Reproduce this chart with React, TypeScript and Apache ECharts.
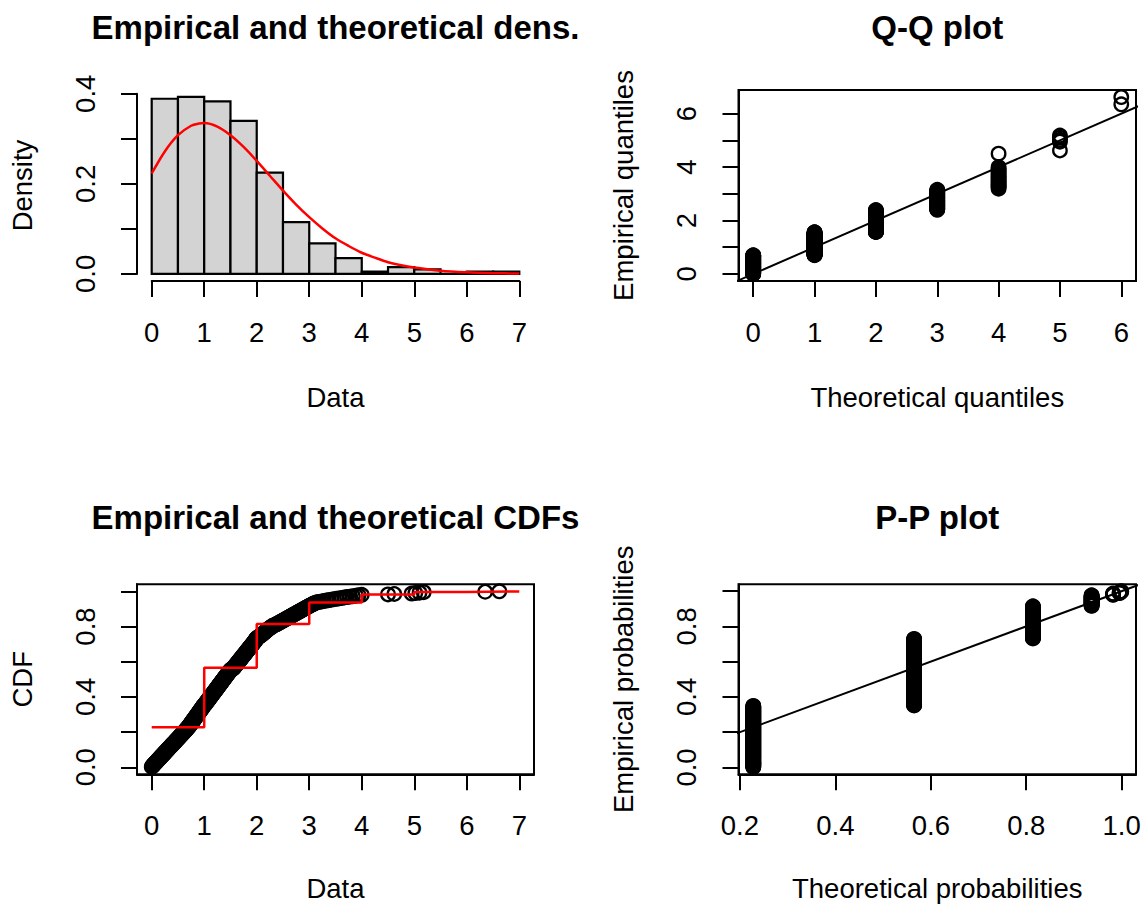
import React, { useEffect, useRef } from "react";
import * as echarts from "echarts";

// ---------- data ----------
const HIST_BREAKS = [0, 0.5, 1, 1.5, 2, 2.5, 3, 3.5, 4, 4.5, 5, 5.5, 6, 6.5, 7];
const HIST_DENSITY = [0.389, 0.393, 0.383, 0.34, 0.225, 0.115, 0.068, 0.035, 0.005, 0.015, 0.01, 0.0, 0.005, 0.005];

const DENS_X = [0, 0.25, 0.5, 0.75, 0.9, 1, 1.25, 1.5, 1.75, 2, 2.25, 2.5, 2.75, 3, 3.25, 3.5, 3.75, 4, 4.25, 4.5, 4.75, 5, 5.5, 6, 6.5, 7];
const DENS_Y = [0.223, 0.272, 0.308, 0.329, 0.334, 0.335, 0.327, 0.308, 0.282, 0.251, 0.218, 0.185, 0.154, 0.126, 0.101, 0.079, 0.062, 0.047, 0.036, 0.026, 0.019, 0.014, 0.007, 0.0035, 0.0017, 0.0008];

const POIS_CDF = [0.228, 0.565, 0.814, 0.937, 0.982, 0.9958, 0.9991, 0.9998];

// sorted sample (400 values), estimated from the Q-Q, CDF and P-P plots
const SAMPLE = [
  0.00, 0.01, 0.02, 0.02, 0.03, 0.04, 0.05, 0.05, 0.06, 0.07,
  0.08, 0.09, 0.09, 0.10, 0.11, 0.12, 0.12, 0.13, 0.14, 0.15,
  0.16, 0.16, 0.17, 0.18, 0.19, 0.19, 0.20, 0.21, 0.22, 0.23,
  0.23, 0.24, 0.25, 0.26, 0.26, 0.27, 0.28, 0.29, 0.30, 0.30,
  0.31, 0.32, 0.33, 0.33, 0.34, 0.35, 0.36, 0.37, 0.37, 0.38,
  0.39, 0.40, 0.40, 0.41, 0.42, 0.43, 0.44, 0.44, 0.45, 0.46,
  0.47, 0.47, 0.48, 0.49, 0.50, 0.51, 0.51, 0.52, 0.53, 0.54,
  0.54, 0.55, 0.56, 0.57, 0.58, 0.58, 0.59, 0.60, 0.61, 0.61,
  0.62, 0.63, 0.64, 0.65, 0.65, 0.66, 0.67, 0.67, 0.68,
  0.69, 0.70, 0.70, 0.71, 0.72, 0.72, 0.73, 0.73, 0.74, 0.75,
  0.75, 0.76, 0.76, 0.77, 0.78, 0.78, 0.79, 0.79, 0.80, 0.81,
  0.81, 0.82, 0.82, 0.83, 0.84, 0.84, 0.85, 0.85, 0.86, 0.87,
  0.87, 0.88, 0.88, 0.89, 0.90, 0.90, 0.91, 0.91, 0.92, 0.93,
  0.93, 0.94, 0.94, 0.95, 0.96, 0.96, 0.97, 0.97, 0.98, 0.98,
  0.99,
  1.00, 1.01, 1.01, 1.02, 1.03, 1.03, 1.04, 1.04, 1.05, 1.06,
  1.06, 1.07, 1.08, 1.08, 1.09, 1.09, 1.10, 1.11, 1.11, 1.12,
  1.13, 1.13, 1.14, 1.14, 1.15, 1.16, 1.16, 1.17, 1.18, 1.18,
  1.19, 1.19, 1.20, 1.21, 1.21, 1.22, 1.23, 1.23, 1.24, 1.24,
  1.25, 1.26, 1.26, 1.27, 1.28, 1.28, 1.29, 1.29, 1.30, 1.31,
  1.31, 1.32, 1.33, 1.33, 1.34, 1.34, 1.35, 1.36, 1.36, 1.37,
  1.38, 1.38, 1.39, 1.39, 1.40, 1.41, 1.41, 1.42, 1.43, 1.43,
  1.44, 1.44, 1.45, 1.46, 1.46, 1.47, 1.48, 1.48, 1.49, 1.50,
  1.50, 1.51, 1.52,
  1.55, 1.55, 1.56, 1.57, 1.57, 1.58, 1.59, 1.59, 1.60, 1.61,
  1.61, 1.62, 1.63, 1.63, 1.64, 1.65, 1.65, 1.66, 1.67, 1.67,
  1.68, 1.69, 1.69, 1.70, 1.71, 1.71, 1.72, 1.73, 1.73, 1.74,
  1.75, 1.75, 1.76, 1.77, 1.77, 1.78, 1.79, 1.79, 1.80, 1.81,
  1.81, 1.82, 1.83, 1.83, 1.84, 1.85, 1.85, 1.86, 1.87, 1.87,
  1.88, 1.89, 1.89, 1.90, 1.91, 1.91, 1.92, 1.93, 1.93, 1.94,
  1.95, 1.95, 1.96, 1.97, 1.97, 1.98, 1.98, 1.99, 1.99,
  2.00, 2.01, 2.02, 2.03, 2.04, 2.06, 2.07, 2.08, 2.09, 2.10,
  2.11, 2.12, 2.13, 2.14, 2.15, 2.16, 2.17, 2.18, 2.19, 2.20,
  2.21, 2.22, 2.23, 2.24, 2.25, 2.27, 2.28, 2.29, 2.30, 2.31,
  2.33,
  2.36, 2.37, 2.39, 2.40, 2.42, 2.43, 2.45, 2.46, 2.48, 2.49,
  2.51, 2.52, 2.54, 2.55, 2.57, 2.58, 2.60, 2.61, 2.63, 2.64,
  2.66, 2.67, 2.69, 2.70, 2.72, 2.73, 2.75, 2.76, 2.78, 2.79,
  2.81, 2.82, 2.84, 2.85, 2.87, 2.88, 2.90, 2.91, 2.93, 2.94,
  2.96, 2.97, 2.99,
  3.00, 3.02, 3.04, 3.05, 3.07, 3.09, 3.10, 3.12,
  3.15, 3.19, 3.24, 3.28, 3.33, 3.37, 3.42, 3.47, 3.52, 3.57,
  3.62, 3.67, 3.72, 3.78, 3.83, 3.89, 3.94, 4.00,
  4.50, 4.62, 4.95, 5.02, 5.10, 5.18, 6.35, 6.62,
];

// tick positions / labels
const HIST_X_TICKS = [0, 1, 2, 3, 4, 5, 6, 7];
const HIST_Y_TICKS = [0, 0.1, 0.2, 0.3, 0.4];
const HIST_Y_LABELS = [0, 0.2, 0.4];
const QQ_X_TICKS = [0, 1, 2, 3, 4, 5, 6];
const QQ_Y_TICKS = [0, 1, 2, 3, 4, 5, 6];
const QQ_Y_LABELS = [0, 2, 4, 6];
const CDF_X_TICKS = [0, 1, 2, 3, 4, 5, 6, 7];
const PROB_TICKS = [0, 0.2, 0.4, 0.6, 0.8, 1.0];
const PROB_LABELS = [0, 0.4, 0.8];
const PP_X_TICKS = [0.2, 0.4, 0.6, 0.8, 1.0];

// ---------- derived tables ----------
const N = SAMPLE.length;
const ppoint = (i: number) => (i + 0.5) / N;
const qpois = (p: number) => {
  for (let k = 0; k < POIS_CDF.length; k++) if (POIS_CDF[k] >= p) return k;
  return POIS_CDF.length;
};
const QQ_DATA = SAMPLE.map((v, i) => [qpois(ppoint(i)), v]);
const CDF_DATA = SAMPLE.map((v, i) => [v, (i + 1) / N]);
const PP_DATA = SAMPLE.map((v, i) => [POIS_CDF[Math.min(Math.floor(v), POIS_CDF.length - 1)], ppoint(i)]);
const STEP_DATA = POIS_CDF.map((c, k) => [k, c]);
const HIST_DATA = HIST_DENSITY.map((d, i) => [HIST_BREAKS[i], HIST_BREAKS[i + 1], d]);
const DENS_DATA = DENS_X.map((x, i) => [x, DENS_Y[i]]);
const IDENTITY = [[-1, -1], [8, 8]];

const FONT = "'Liberation Sans', Arial, Helvetica, sans-serif";
const FS = 27.5;
const TFS = 33;

function xAx(gridIndex: number, min: number, max: number, ticks: number[], labels: number[], fmt: (v: number) => string, offset = 0) {
  return {
    type: "value", gridIndex, min, max, position: "bottom", offset,
    axisLine: { show: true, onZero: false, lineStyle: { color: "#000", width: 2 } },
    axisTick: { show: true, inside: false, length: 16, customValues: ticks, lineStyle: { color: "#000", width: 2 } },
    axisLabel: { show: true, customValues: labels, formatter: fmt, color: "#000", fontSize: FS, fontFamily: FONT, margin: 37 },
    splitLine: { show: false },
  };
}
function yAx(gridIndex: number, min: number, max: number, ticks: number[], labels: number[], fmt: (v: number) => string, offset = 0) {
  return {
    type: "value", gridIndex, min, max, position: "left", offset,
    axisLine: { show: true, onZero: false, lineStyle: { color: "#000", width: 2 } },
    axisTick: { show: true, inside: false, length: 16, customValues: ticks, lineStyle: { color: "#000", width: 2 } },
    axisLabel: { show: true, customValues: labels, formatter: fmt, rotate: 90, color: "#000", fontSize: FS, fontFamily: FONT, margin: 38 },
    splitLine: { show: false },
  };
}
const f0 = (v: number) => String(Math.round(v));
const f1 = (v: number) => v.toFixed(1);

function txt(text: string, x: number, y: number, bold: boolean, rotate = false) {
  return {
    type: "text", x, y, rotation: rotate ? Math.PI / 2 : 0, silent: true,
    style: {
      text, x: 0, y: 0, fill: "#000",
      font: `${bold ? "bold " : ""}${bold ? TFS : FS}px ${FONT}`,
      align: "center", verticalAlign: "middle", textAlign: "center", textVerticalAlign: "middle",
    },
  };
}

// plot-region boxes (pixels)
const L1 = 137, R1 = 534, L2 = 738.5, R2 = 1136;
const T1 = 90, B1 = 281, T2 = 584.3, B2 = 774.3;

const circleStyle = { color: "rgba(0,0,0,0)", borderColor: "#000", borderWidth: 2.3, opacity: 1 };

export default function App() {
  const ref = useRef<HTMLDivElement>(null);
  useEffect(() => {
    if (!ref.current) return;
    const chart = echarts.init(ref.current, undefined, { renderer: "svg" });
    const boxGrid = (left: number, top: number, right: number, bottom: number) => ({
      left, top, width: right - left, height: bottom - top, show: true,
      borderColor: "#000", borderWidth: 2, backgroundColor: "transparent", containLabel: false, outerBoundsMode: "none",
    });
    const option: any = {
      animation: false,
      backgroundColor: "#fff",
      grid: [
        // histogram axes span exactly 0..7 and 0..0.4
        { left: 151.7, top: 93.8, width: 367.6, height: 180.1, show: false, containLabel: false, outerBoundsMode: "none" },
        boxGrid(L2, T1, R2, B1),
        boxGrid(L1, T2, R1, B2),
        boxGrid(L2, T2, R2, B2),
      ],
      xAxis: [
        xAx(0, 0, 7, HIST_X_TICKS, HIST_X_TICKS, f0, 7.1),
        xAx(1, -0.24, 6.24, QQ_X_TICKS, QQ_X_TICKS, f0),
        xAx(2, -0.28, 7.28, CDF_X_TICKS, CDF_X_TICKS, f0),
        xAx(3, 0.197, 1.03, PP_X_TICKS, PP_X_TICKS, f1),
      ],
      yAxis: [
        yAx(0, 0, 0.4, HIST_Y_TICKS, HIST_Y_LABELS, f1, 14.7),
        yAx(1, -0.2648, 6.8848, QQ_Y_TICKS, QQ_Y_LABELS, f0),
        yAx(2, -0.04, 1.04, PROB_TICKS, PROB_LABELS, f1),
        yAx(3, -0.0387, 1.0386, PROB_TICKS, PROB_LABELS, f1),
      ],
      series: [
        {
          type: "custom", xAxisIndex: 0, yAxisIndex: 0, data: HIST_DATA, silent: true,
          encode: { x: [0, 1], y: 2 },
          renderItem: (params: any, api: any) => {
            const p1 = api.coord([api.value(0), api.value(2)]);
            const p2 = api.coord([api.value(1), 0]);
            return {
              type: "rect",
              shape: { x: p1[0], y: p1[1], width: p2[0] - p1[0], height: p2[1] - p1[1] },
              style: { fill: "#D3D3D3", stroke: "#000", lineWidth: 2.2 },
            };
          },
        },
        {
          type: "line", xAxisIndex: 0, yAxisIndex: 0, data: DENS_DATA, smooth: 0.3, showSymbol: false, silent: true,
          lineStyle: { color: "#FF0000", width: 2.5 }, z: 5,
        },
        {
          type: "scatter", xAxisIndex: 1, yAxisIndex: 1, data: QQ_DATA, symbol: "circle", symbolSize: 13.5, silent: true,
          itemStyle: circleStyle,
        },
        {
          type: "line", xAxisIndex: 1, yAxisIndex: 1, data: IDENTITY, showSymbol: false, silent: true, clip: true,
          lineStyle: { color: "#000", width: 2 }, z: 5,
        },
        {
          type: "scatter", xAxisIndex: 2, yAxisIndex: 2, data: CDF_DATA, symbol: "circle", symbolSize: 13.5, silent: true,
          itemStyle: circleStyle,
        },
        {
          type: "line", xAxisIndex: 2, yAxisIndex: 2, data: STEP_DATA, step: "end", showSymbol: false, silent: true, clip: true,
          lineStyle: { color: "#FF0000", width: 2.5 }, z: 5,
        },
        {
          type: "scatter", xAxisIndex: 3, yAxisIndex: 3, data: PP_DATA, symbol: "circle", symbolSize: 13.5, silent: true,
          itemStyle: circleStyle,
        },
        {
          type: "line", xAxisIndex: 3, yAxisIndex: 3, data: IDENTITY, showSymbol: false, silent: true, clip: true,
          lineStyle: { color: "#000", width: 2 }, z: 5,
        },
      ],
      graphic: [
        txt("Empirical and theoretical dens.", (L1 + R1) / 2, 27, true),
        txt("Q-Q plot", (L2 + R2) / 2, 27, true),
        txt("Empirical and theoretical CDFs", (L1 + R1) / 2, 517, true),
        txt("P-P plot", (L2 + R2) / 2, 517, true),
        txt("Data", (L1 + R1) / 2, 397, false),
        txt("Theoretical quantiles", (L2 + R2) / 2, 397, false),
        txt("Data", (L1 + R1) / 2, 888, false),
        txt("Theoretical probabilities", (L2 + R2) / 2, 888, false),
        txt("Density", L1 - 115, (T1 + B1) / 2, false, true),
        txt("Empirical quantiles", L2 - 115, (T1 + B1) / 2, false, true),
        txt("CDF", L1 - 115, (T2 + B2) / 2, false, true),
        txt("Empirical probabilities", L2 - 115, (T2 + B2) / 2, false, true),
      ],
    };
    chart.setOption(option);
    return () => chart.dispose();
  }, []);
  return <div ref={ref} style={{ position: "absolute", left: 0, top: 0, width: 1145, height: 909 }} />;
}
